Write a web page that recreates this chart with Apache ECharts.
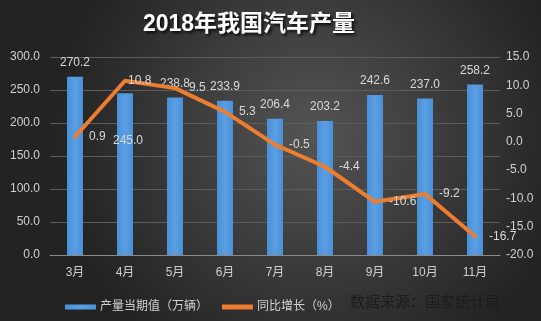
<!DOCTYPE html>
<html><head><meta charset="utf-8">
<script src="https://cdn.jsdelivr.net/npm/echarts@6/dist/echarts.min.js"></script>
<style>html,body{margin:0;padding:0;background:#333;}#c{width:541px;height:321px;}</style>
</head><body><div id="c"></div>
<script>
var categories = ['3月','4月','5月','6月','7月','8月','9月','10月','11月'];
var production = [270.2, 245.0, 238.8, 233.9, 206.4, 203.2, 242.6, 237.0, 258.2];
var growth = [0.9, 10.8, 9.5, 5.3, -0.5, -4.4, -10.6, -9.2, -16.7];
var leftTicks = {min: 0, max: 300, interval: 50};
var rightTicks = {min: -20, max: 15, interval: 5};

var FONT = 'Liberation Sans, Noto Sans CJK SC, sans-serif';
var barData = production.map(function (v, i) {
  if (i === 1) return {value: v, label: {position: 'insideTop', distance: 41, offset: [3, 0]}};
  return v;
});
var lineData = growth.map(function (v, i) {
  if (i === 1) return {value: v, label: {offset: [-11, 0]}};
  return v;
});

var chart = echarts.init(document.getElementById('c'));
chart.setOption({
  backgroundColor: {
    type: 'radial', x: 0.58, y: 0.42, r: 0.8,
    colorStops: [{offset: 0, color: '#545454'}, {offset: 1, color: '#232323'}]
  },
  animation: false,
  title: {
    text: '2018年我国汽车产量',
    left: 244, top: 8, textAlign: 'center',
    textStyle: {
      color: '#ffffff', fontSize: 23, fontWeight: 'bold', fontFamily: FONT,
      textShadowColor: 'rgba(0,0,0,0.85)', textShadowBlur: 3, textShadowOffsetX: 2, textShadowOffsetY: 2
    }
  },
  grid: {left: 50, right: 41, top: 57, bottom: 66, containLabel: false},
  legend: {
    left: 60, top: 296,
    itemWidth: 31, itemHeight: 5, itemGap: 14,
    textStyle: {color: '#d0d0d0', fontSize: 12, fontFamily: FONT, padding: [0, 0, 0, -1]},
    data: [
      {name: '产量当期值（万辆）', icon: 'rect'},
      {name: '同比增长（%）', icon: 'rect'}
    ]
  },
  graphic: [{
    type: 'text', left: 350, top: 295,
    style: {text: '数据来源：国家统计局', fill: '#1c1c1c', fontSize: 15, fontFamily: FONT}
  }],
  xAxis: {
    type: 'category', data: categories,
    axisLine: {lineStyle: {color: '#8a8a8a', width: 1}},
    axisTick: {show: false},
    axisLabel: {color: '#d0d0d0', fontSize: 12, fontFamily: FONT, margin: 12}
  },
  yAxis: [{
    type: 'value', min: leftTicks.min, max: leftTicks.max, interval: leftTicks.interval,
    axisLine: {show: false}, axisTick: {show: false},
    axisLabel: {color: '#d0d0d0', fontSize: 12, fontFamily: FONT, margin: 10,
      formatter: function (v) { return v.toFixed(1); }},
    splitLine: {lineStyle: {color: '#5c5c5c', width: 1}}
  }, {
    type: 'value', min: rightTicks.min, max: rightTicks.max, interval: rightTicks.interval,
    axisLine: {show: false}, axisTick: {show: false},
    axisLabel: {color: '#d0d0d0', fontSize: 12, fontFamily: FONT, margin: 6,
      formatter: function (v) { return v.toFixed(1); }},
    splitLine: {show: false}
  }],
  series: [{
    name: '产量当期值（万辆）', type: 'bar', yAxisIndex: 0, data: barData,
    barWidth: 16,
    itemStyle: {color: {type: 'linear', x: 0, y: 0, x2: 1, y2: 0,
      colorStops: [{offset: 0, color: '#4a90d8'}, {offset: 0.5, color: '#5a9fe3'}, {offset: 1, color: '#4a90d8'}]}},
    label: {show: true, position: 'top', distance: 8, color: '#d9d9d9', fontSize: 12, fontFamily: FONT,
      formatter: function (p) { return p.value.toFixed(1); }}
  }, {
    name: '同比增长（%）', type: 'line', yAxisIndex: 1, data: lineData,
    symbol: 'circle', symbolSize: 0, showSymbol: true,
    lineStyle: {color: '#ed7d31', width: 4, cap: 'round', join: 'round'},
    itemStyle: {color: '#ed7d31'},
    label: {show: true, position: 'right', distance: 14, color: '#d9d9d9', fontSize: 12, fontFamily: FONT,
      formatter: function (p) { return p.value.toFixed(1); }},
    z: 3
  }]
});
</script></body></html>
